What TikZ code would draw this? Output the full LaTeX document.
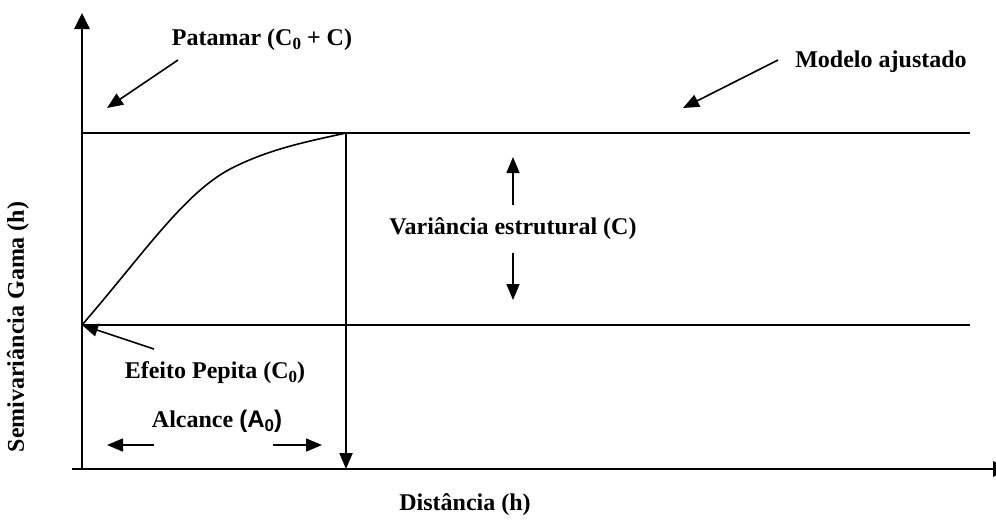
\documentclass[tikz,border=0pt]{standalone}
\usepackage{fontspec}
\setmainfont{Liberation Serif}
\newfontfamily\arialfont{Liberation Sans}
\usetikzlibrary{arrows.meta}
\newcommand{\lowidx}[1]{\raisebox{-0.35ex}{\fontsize{8.5}{9}\selectfont #1}}
\begin{document}
\begin{tikzpicture}[x=0.5pt,y=-0.5pt,
  lbl/.style={font=\fontsize{12}{14}\selectfont\bfseries, inner sep=0pt},
  axisline/.style={line width=1.4pt},
  ln/.style={line width=1pt},
  ann/.style={line width=0.8pt, -{Triangle[length=8pt,width=6.5pt]}}]
\useasboundingbox (0,0) rectangle (996,527);
\clip (0,0) rectangle (996,527);
% axes
\coordinate (O) at (82,469);
\coordinate (ytip) at (82,13);
\coordinate (xstart) at (72,469);
\coordinate (xtip) at (1009,469);
\draw[axisline,-{Triangle[length=8pt,width=7.5pt]}] (O) -- (ytip);
\draw[axisline,-{Triangle[length=8pt,width=7.5pt]}] (xstart) -- (xtip);
% sill, nugget, range
\coordinate (sillL) at (82,133);
\coordinate (sillR) at (970,133);
\coordinate (s0) at (82,325);
\coordinate (nugR) at (970,325);
\coordinate (s1) at (346,133);
\coordinate (rangeB) at (346,469);
\coordinate (bend) at (232,168);
\draw[ln] (sillL) -- (sillR);
\draw[ln] (s0) -- (nugR);
\draw[ln,-{Triangle[length=8pt,width=6.5pt]}] (s1) -- (rangeB);
% fitted model curve
\draw[line width=0.8pt] (s0) .. controls (145,252) and (185,192) .. (bend)
  .. controls (270,149) and (305,142) .. (s1);
% labels
\node[lbl] (pat) at (262,40) {Patamar (C\lowidx{0} + C)};
\node[lbl] (mod) at (881,62) {Modelo ajustado};
\node[lbl] (var) at (513,229) {Variância estrutural (C)};
\node[lbl] (pep) at (215,373) {Efeito Pepita (C\lowidx{0})};
\node[lbl] (alc) at (217,421) {Alcance {\arialfont(A\lowidx{0})}};
\node[lbl,rotate=90] (ylab) at (18,327) {Semivariância Gama (h)};
\node[lbl] (xlab) at (465,505) {Distância (h)};
% annotation arrows
\coordinate (pa1) at (178,60);  \coordinate (pa2) at (107,108);
\coordinate (ma1) at (778,60);  \coordinate (ma2) at (683,108);
\coordinate (vu1) at (513,205); \coordinate (vu2) at (513,157);
\coordinate (vd1) at (513,253); \coordinate (vd2) at (513,300);
\coordinate (pe1) at (154,349);
\coordinate (al1) at (154,445); \coordinate (al2) at (107,445);
\coordinate (ar1) at (273,445); \coordinate (ar2) at (322,445);
\draw[ann] (pa1) -- (pa2);
\draw[ann] (ma1) -- (ma2);
\draw[ann] (vu1) -- (vu2);
\draw[ann] (vd1) -- (vd2);
\draw[ann] (pe1) -- (s0);
\draw[ann] (al1) -- (al2);
\draw[ann] (ar1) -- (ar2);
\end{tikzpicture}
\end{document}
